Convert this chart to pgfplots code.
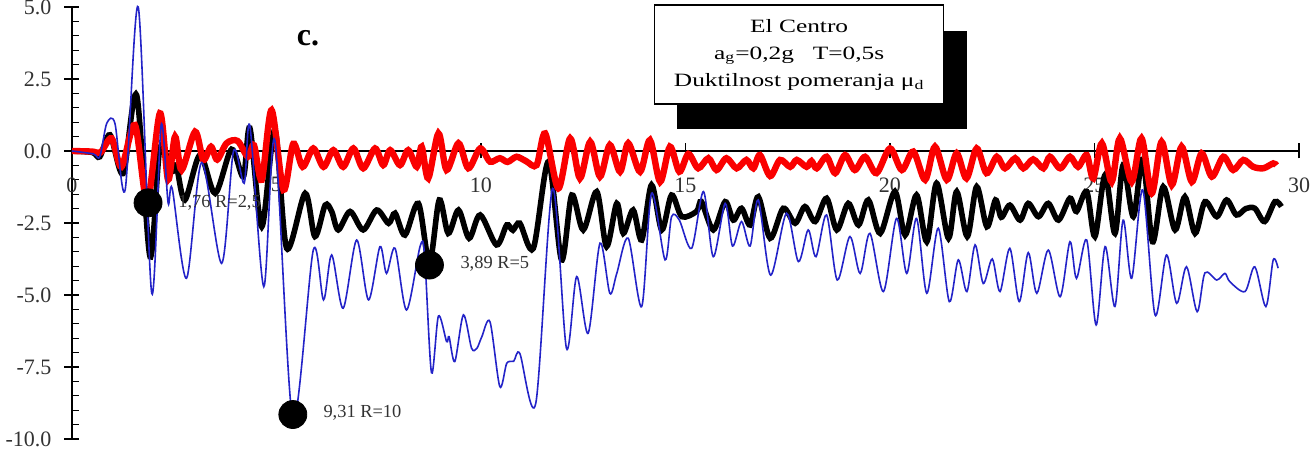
\documentclass[border=0pt]{standalone}
\usepackage{fontspec}
\setmainfont{Liberation Serif}
\newfontfamily\boxfont{Liberation Serif}[FakeStretch=1.35]
\usepackage{pgfplots}
\usepackage{pgfplotstable}
\pgfplotsset{compat=1.18}
\definecolor{rline}{RGB}{250,0,0}
\definecolor{bline}{RGB}{35,35,200}
\definecolor{lbl}{RGB}{50,50,50}

% R = 2.5
\pgfplotstableread{
t u
0 0
0.5 -0.02
0.7 -0.05
0.97 0.44
1.21 -0.55
1.54 0.9
1.84 -1.76
2.15 1.31
2.35 -1.0
2.52 0.5
2.68 -0.66
3.01 0.67
3.21 -0.31
3.40 0.15
3.55 -0.3
3.78 0.27
4.05 0.35
4.3 -0.2
4.45 0.2
4.64 -1.0
4.88 1.42
5.17 -1.35
5.41 0.25
5.64 -0.55
5.90 0.09
6.15 -0.55
6.39 0.03
6.63 -0.55
6.88 0.09
7.12 -0.6
7.41 0.09
7.61 -0.49
7.78 0.03
8.02 -0.49
8.22 0.03
8.43 -0.55
8.55 0.15
8.71 -0.95
8.96 0.61
9.16 -0.66
9.45 0.27
9.69 -0.6
9.98 0.09
10.22 -0.37
10.46 -0.25
10.65 -0.38
10.87 -0.2
11.1 -0.35
11.36 -0.49
11.57 0.61
11.89 -1.3
12.18 0.44
12.42 -0.95
12.67 0.32
12.91 -0.89
13.15 0.21
13.40 -0.72
13.60 0.27
13.89 -0.72
14.13 0.38
14.38 -1.07
14.62 0.15
14.85 -0.72
15.07 -0.1
15.31 -0.6
15.56 -0.25
15.76 -0.66
16.0 -0.25
16.25 -0.6
16.49 -0.31
16.66 -0.6
16.82 -0.14
17.07 -0.87
17.31 -0.31
17.56 -0.55
17.72 -0.31
17.96 -0.55
18.08 -0.35
18.21 -0.6
18.45 -0.2
18.66 -0.77
18.90 -0.14
19.14 -0.66
19.39 -0.2
19.67 -0.77
20.0 0.09
20.29 -0.66
20.57 -0.02
20.86 -1.0
21.10 0.15
21.39 -1.0
21.63 -0.08
21.87 -0.95
22.12 0.09
22.36 -0.77
22.61 -0.2
22.81 -0.6
23.06 -0.25
23.26 -0.6
23.5 -0.29
23.75 -0.6
23.91 -0.2
24.16 -0.6
24.4 -0.2
24.60 -0.55
24.81 -0.14
24.97 -0.95
25.18 0.27
25.42 -1.07
25.62 0.44
25.91 -1.07
26.15 0.44
26.40 -1.47
26.64 0.32
26.89 -1.18
27.13 0.15
27.38 -1.07
27.62 -0.08
27.87 -0.89
28.15 -0.2
28.39 -0.66
28.64 -0.31
28.88 -0.55
29.13 -0.6
29.37 -0.43
29.45 -0.5
}\redR

% R = 5
\pgfplotstableread{
t u
0 0
0.5 -0.05
0.68 -0.2
0.93 0.56
1.25 -0.78
1.58 1.94
1.91 -3.67
2.15 0.1
2.44 -0.72
2.55 -0.5
2.76 -1.7
3.13 -0.14
3.50 -1.47
3.90 0.06
4.19 -0.89
4.35 0.79
4.64 -2.63
4.96 0.73
5.25 -3.38
5.70 -1.47
5.94 -2.97
6.19 -1.88
6.35 -2.1
6.51 -2.74
6.8 -2.1
7.12 -2.74
7.45 -2.05
7.74 -2.51
7.90 -2.16
8.14 -2.92
8.47 -1.82
8.74 -3.89
8.98 -1.7
9.20 -2.86
9.45 -2.05
9.71 -3.03
9.98 -2.22
10.38 -3.26
10.63 -2.57
10.78 -2.75
10.95 -2.51
11.28 -3.38
11.65 -0.37
11.97 -3.78
12.22 -1.53
12.50 -2.74
12.83 -1.41
13.07 -3.32
13.32 -1.82
13.48 -2.86
13.72 -2.05
13.93 -3.09
14.17 -1.18
14.42 -2.74
14.66 -1.53
14.91 -2.28
15.27 -2.1
15.39 -1.76
15.68 -2.74
15.97 -1.76
16.17 -2.4
16.37 -1.99
16.58 -2.57
16.78 -1.59
17.07 -3.03
17.39 -1.99
17.68 -2.51
17.92 -1.93
18.17 -2.45
18.45 -1.64
18.70 -2.74
18.98 -1.82
19.23 -2.57
19.47 -1.7
19.76 -2.86
20.12 -1.41
20.37 -2.92
20.65 -1.53
20.90 -3.15
21.14 -1.12
21.43 -3.03
21.63 -1.41
21.89 -2.97
22.12 -1.24
22.37 -2.63
22.58 -1.7
22.72 -2.3
22.93 -1.88
23.18 -2.4
23.38 -1.82
23.63 -2.28
23.87 -1.82
24.12 -2.4
24.40 -1.64
24.56 -2.1
24.81 -1.41
25.01 -2.97
25.26 -0.83
25.50 -2.86
25.70 -0.49
25.95 -2.28
26.18 -0.29
26.42 -3.15
26.68 -1.24
26.97 -2.74
27.21 -1.59
27.46 -2.86
27.70 -1.76
27.99 -2.28
28.23 -1.7
28.47 -2.22
28.7 -2.0
28.92 -1.99
29.16 -2.45
29.41 -1.76
29.57 -1.93
}\blackR

% R = 10
\pgfplotstableread{
t u
0 0
0.52 -0.1
0.68 -0.2
0.85 0.96
1.05 0.96
1.30 -1.35
1.62 5.0
1.95 -4.94
2.18 0.9
2.35 -1.8
2.45 -1.3
2.80 -4.42
3.17 -0.4
3.66 -3.9
3.95 0.0
4.21 -1.12
4.35 0.87
4.69 -4.71
4.96 0.38
5.40 -9.31
5.90 -3.44
6.15 -5.17
6.35 -3.61
6.63 -5.46
6.96 -3.09
7.25 -5.17
7.53 -3.32
7.69 -4.25
7.90 -3.38
8.18 -5.52
8.51 -3.32
8.62 -3.6
8.79 -7.7
8.96 -5.73
9.16 -6.62
9.22 -6.45
9.36 -7.31
9.57 -5.69
9.77 -6.85
9.90 -6.85
10.02 -6.45
10.22 -5.93
10.46 -8.18
10.63 -7.37
10.80 -7.3
10.95 -7.03
11.34 -8.76
11.75 -1.3
12.09 -6.85
12.34 -4.36
12.62 -6.33
12.91 -3.2
13.15 -4.94
13.32 -4.25
13.60 -3.03
13.93 -5.4
14.17 -1.47
14.50 -3.78
14.66 -2.28
14.85 -2.4
15.15 -3.38
15.44 -1.41
15.68 -3.67
15.97 -1.82
16.15 -3.3
16.37 -2.45
16.58 -3.3
16.78 -1.7
17.08 -4.31
17.47 -2.16
17.76 -3.84
18.0 -2.74
18.19 -3.67
18.45 -2.22
18.71 -4.48
19.02 -2.97
19.27 -4.25
19.51 -2.86
19.84 -4.88
20.16 -2.34
20.41 -4.25
20.65 -2.34
20.90 -4.94
21.18 -2.68
21.45 -5.23
21.67 -3.78
21.88 -4.88
22.08 -3.26
22.28 -4.6
22.50 -3.75
22.69 -4.88
22.93 -3.38
23.16 -5.23
23.38 -3.53
23.59 -4.94
23.87 -3.44
24.16 -5.06
24.40 -3.15
24.56 -4.42
24.81 -3.09
25.04 -6.04
25.26 -3.32
25.50 -5.4
25.70 -2.4
25.91 -4.42
26.18 -1.35
26.48 -5.69
26.76 -3.61
27.01 -5.29
27.25 -4.02
27.51 -5.58
27.70 -4.23
27.99 -4.48
28.19 -4.25
28.31 -4.54
28.68 -4.88
28.92 -4.02
29.19 -5.4
29.37 -3.78
29.49 -4.07
}\blueR

\begin{document}
\begin{tikzpicture}
\begin{axis}[
  scale only axis, width=613.5pt, height=216pt,
  xmin=0, xmax=30, ymin=-10, ymax=5,
  axis x line=middle, axis y line=left,
  axis line style={-, line width=0.6pt},
  xtick={0,5,10,15,20,25,30},
  xticklabels={0,5,10,15,20,25,30},
  ytick={-10,-7.5,-5,-2.5,0,2.5,5},
  yticklabels={-10.0,-7.5,-5.0,-2.5,0.0,2.5,5.0},
  minor y tick num=4,
  tick align=center, major tick length=7.5pt, minor tick length=3.5pt,
  every minor tick/.append style={xshift=1.75pt},
  tick style={black, line width=0.6pt},
  ticklabel style={font=\fontsize{11}{12}\selectfont, text=lbl},
  xticklabel style={yshift=-6pt},
  yticklabel style={xshift=-3pt},
  hide obscured x ticks=false,
  clip=false,
]
\addplot[black, line width=2.8pt, smooth, tension=0.5] table[x=t, y=u] {\blackR};
\addplot[rline, line width=3.2pt, smooth, tension=0.5] table[x=t, y=u] {\redR};
\addplot[bline, line width=0.8pt, smooth, tension=0.5] table[x=t, y=u] {\blueR};
\addplot[only marks, mark=*, mark size=7pt, black] coordinates {(1.86,-1.80) (8.74,-3.96) (5.40,-9.15)};

\node[anchor=west, inner sep=0pt, text=lbl, font=\fontsize{9.2}{11}\selectfont] at (axis cs:2.59,-1.8) {1,76 R=2,5};
\node[anchor=west, inner sep=0pt, text=lbl, font=\fontsize{9.2}{11}\selectfont] at (axis cs:9.49,-3.92) {3,89 R=5};
\node[anchor=west, inner sep=0pt, text=lbl, font=\fontsize{9.2}{11}\selectfont] at (axis cs:6.14,-9.1) {9,31 R=10};

\node[font=\bfseries\fontsize{16}{18}\selectfont] at (axis cs:5.77,3.92) {c.};

\fill[black] (axis cs:14.79,4.17) rectangle (axis cs:21.88,0.76);
\draw[fill=white, line width=0.6pt] (axis cs:14.25,5.07) rectangle (axis cs:21.30,1.63);
\node[align=center, font=\boxfont\fontsize{9.4}{13.5}\selectfont] at (axis cs:17.78,3.33)
  {El Centro\\a\textsubscript{g}=0,2g\quad T=0,5s\\Duktilnost pomeranja μ\textsubscript{d}};

\coordinate (bbl) at (axis cs:-1.76,-10.486);
\coordinate (btr) at (axis cs:30.416,5.243);
\end{axis}
\pgfresetboundingbox
\path[use as bounding box] (bbl) rectangle (btr);
\end{tikzpicture}
\end{document}
